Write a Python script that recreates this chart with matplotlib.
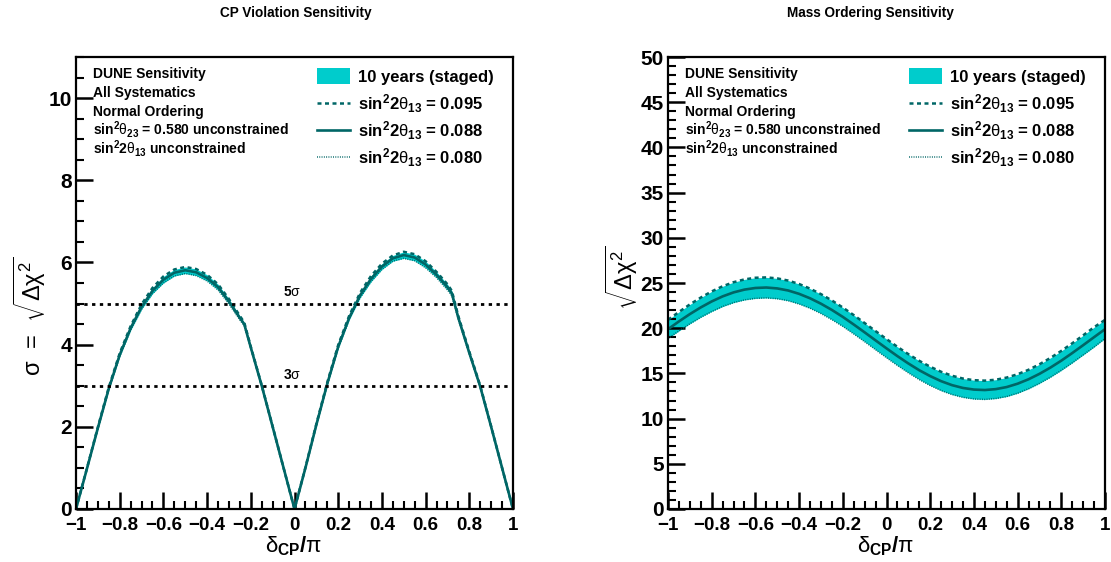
import matplotlib
matplotlib.use("Agg")
import matplotlib.pyplot as plt
from matplotlib.patches import Rectangle
from matplotlib.ticker import MultipleLocator

plt.rcParams['font.family'] = ['Liberation Sans', 'DejaVu Sans']
plt.rcParams['mathtext.fontset'] = 'custom'
plt.rcParams['mathtext.rm'] = 'Liberation Sans:bold'
plt.rcParams['mathtext.bf'] = 'Liberation Sans:bold'
plt.rcParams['mathtext.it'] = 'Liberation Sans'
plt.rcParams['mathtext.sf'] = 'Liberation Sans'

# ---------------- data ----------------
delta_cp = [-1.00, -0.95, -0.90, -0.85, -0.80, -0.75, -0.70, -0.65, -0.60, -0.55,
            -0.50, -0.45, -0.40, -0.35, -0.30, -0.25, -0.23, -0.20, -0.15, -0.10,
            -0.05, 0.00, 0.05, 0.10, 0.15, 0.20, 0.25, 0.30, 0.35, 0.40,
            0.45, 0.50, 0.55, 0.60, 0.65, 0.70, 0.72, 0.75, 0.80, 0.85,
            0.90, 0.95, 1.00]

cpv_088 = [0.00, 0.98, 1.97, 2.93, 3.75, 4.40, 4.92, 5.31, 5.58, 5.75,
           5.81, 5.76, 5.62, 5.40, 5.05, 4.65, 4.50, 3.93, 3.00, 2.00,
           1.00, 0.00, 1.00, 2.05, 3.05, 3.95, 4.65, 5.20, 5.60, 5.90,
           6.10, 6.18, 6.12, 5.95, 5.70, 5.40, 5.25, 4.65, 3.80, 2.98,
           2.00, 1.00, 0.00]

cpv_095 = [0.00, 0.99, 1.99, 2.96, 3.79, 4.45, 4.98, 5.38, 5.66, 5.83,
           5.89, 5.84, 5.70, 5.47, 5.11, 4.70, 4.54, 3.95, 3.01, 2.01,
           1.00, 0.00, 1.01, 2.07, 3.08, 3.99, 4.70, 5.26, 5.67, 5.97,
           6.17, 6.26, 6.20, 6.03, 5.77, 5.47, 5.31, 4.69, 3.83, 3.00,
           2.01, 1.00, 0.00]

cpv_080 = [0.00, 0.97, 1.95, 2.90, 3.71, 4.35, 4.86, 5.24, 5.50, 5.67,
           5.73, 5.68, 5.55, 5.33, 4.99, 4.60, 4.46, 3.91, 2.99, 1.99,
           1.00, 0.00, 0.99, 2.03, 3.02, 3.91, 4.60, 5.14, 5.53, 5.83,
           6.03, 6.10, 6.04, 5.87, 5.63, 5.33, 5.19, 4.61, 3.77, 2.96,
           1.99, 1.00, 0.00]

delta_mo = [-1.00, -0.95, -0.90, -0.85, -0.80, -0.75, -0.70, -0.65, -0.60, -0.55,
            -0.50, -0.45, -0.40, -0.35, -0.30, -0.25, -0.20, -0.15, -0.10, -0.05,
            0.00, 0.05, 0.10, 0.15, 0.20, 0.25, 0.30, 0.35, 0.40, 0.45,
            0.50, 0.55, 0.60, 0.65, 0.70, 0.75, 0.80, 0.85, 0.90, 0.95, 1.00]

mo_088 = [19.89, 20.75, 21.56, 22.30, 22.96, 23.52, 23.96, 24.27, 24.45, 24.50,
          24.40, 24.17, 23.80, 23.31, 22.71, 22.02, 21.25, 20.41, 19.54, 18.65,
          17.77, 16.91, 16.10, 15.35, 14.70, 14.14, 13.70, 13.39, 13.21, 13.16,
          13.26, 13.49, 13.86, 14.35, 14.95, 15.64, 16.41, 17.25, 18.12, 19.01, 19.89]

mo_095 = [20.92, 21.80, 22.63, 23.39, 24.07, 24.64, 25.09, 25.40, 25.58, 25.62,
          25.51, 25.27, 24.89, 24.38, 23.77, 23.07, 22.29, 21.45, 20.57, 19.68,
          18.80, 17.94, 17.13, 16.39, 15.74, 15.18, 14.74, 14.43, 14.25, 14.20,
          14.30, 14.54, 14.91, 15.40, 16.01, 16.71, 17.49, 18.33, 19.21, 20.11, 20.92]

mo_080 = [18.86, 19.70, 20.49, 21.21, 21.85, 22.40, 22.83, 23.13, 23.30, 23.35,
          23.26, 23.04, 22.68, 22.21, 21.63, 20.95, 20.20, 19.37, 18.51, 17.62,
          16.74, 15.88, 15.07, 14.32, 13.66, 13.10, 12.66, 12.35, 12.17, 12.12,
          12.22, 12.44, 12.81, 13.30, 13.90, 14.58, 15.34, 16.17, 17.04, 17.92, 18.86]

sigma_levels = [5, 3]
sigma_labels = ['5', '3']

xticks = [-1.0, -0.8, -0.6, -0.4, -0.2, 0.0, 0.2, 0.4, 0.6, 0.8, 1.0]
xtick_labels = ['\u22121', '\u22120.8', '\u22120.6', '\u22120.4', '\u22120.2', '0',
                '0.2', '0.4', '0.6', '0.8', '1']

info_lines = ['DUNE Sensitivity', 'All Systematics', 'Normal Ordering',
              r'sin$^{2}\theta_{23}$ = 0.580 unconstrained',
              r'sin$^{2}$2$\theta_{13}$ unconstrained']
band_label = '10 years (staged)'
th13_labels = [r'sin$^{2}$2$\theta_{13}$ = 0.095',
               r'sin$^{2}$2$\theta_{13}$ = 0.088',
               r'sin$^{2}$2$\theta_{13}$ = 0.080']

# ---------------- styling ----------------
W, H = 1111, 562
FILL = '#00CCCC'
LINE = '#006666'
styles = [dict(ls=(0, (1.6, 1.4)), lw=1.8),
          dict(ls='-', lw=1.9),
          dict(ls=(0, (0.6, 0.9)), lw=1.1)]

fig = plt.figure(figsize=(W / 100, H / 100), dpi=100)


def make_axes(left_px):
    ax_l = left_px / W
    ax_w = 437 / W
    ax_b = 1 - 509 / H
    ax_h = 452 / H
    return fig.add_axes([ax_l, ax_b, ax_w, ax_h])


def fx(px, left_px):
    return (px - left_px) / 437


def fy(py):
    return (509 - py) / 452


def style_axes(ax, ymax, ymajor, yminor):
    ax.set_xlim(-1, 1)
    ax.set_ylim(0, ymax)
    ax.set_xticks(xticks, labels=xtick_labels)
    ax.xaxis.set_minor_locator(MultipleLocator(0.05))
    ax.yaxis.set_major_locator(MultipleLocator(ymajor))
    ax.yaxis.set_minor_locator(MultipleLocator(yminor))
    for s in ax.spines.values():
        s.set_linewidth(1.6)
    ax.tick_params(which='major', direction='in', length=12, width=1.8,
                   top=False, right=False)
    ax.tick_params(which='minor', direction='in', length=6, width=1.5,
                   top=False, right=False)
    ax.tick_params(axis='x', which='major', labelsize=13.5, pad=6)
    ax.tick_params(axis='y', which='major', labelsize=15, pad=3)
    for lab in ax.get_xticklabels() + ax.get_yticklabels():
        lab.set_fontweight('bold')
    # the zero label sits just above the corner
    ax.get_yticklabels()[0].set_va('bottom')


def draw_key(ax, left_px):
    # info block
    bases = [77.5, 96.5, 115.5, 134.5, 153.5]
    for txt, b in zip(info_lines, bases):
        ax.text(fx(left_px + 17, left_px), fy(b), txt, transform=ax.transAxes,
                fontsize=10, fontweight='bold', ha='left', va='baseline')
    # band swatch
    x0 = fx(left_px + 240.5, left_px)
    x1 = fx(left_px + 273.5, left_px)
    ax.add_patch(Rectangle((x0, fy(84)), x1 - x0, fy(68) - fy(84),
                           transform=ax.transAxes, color=FILL, lw=0,
                           clip_on=False))
    tx = fx(left_px + 281.5, left_px)
    ax.text(tx, fy(82), band_label, transform=ax.transAxes, fontsize=12,
            fontweight='bold', ha='left', va='baseline')
    line_y = [103.3, 130, 156.5]
    text_b = [110, 136.7, 163.3]
    for st, ly, tb, lab in zip(styles, line_y, text_b, th13_labels):
        ax.plot([x0, x1], [fy(ly), fy(ly)], transform=ax.transAxes,
                color=LINE, clip_on=False, linestyle=st['ls'], lw=st['lw'])
        ax.text(tx, fy(tb), lab, transform=ax.transAxes, fontsize=12,
                fontweight='bold', ha='left', va='baseline')


def draw_curves(ax, x, hi, mid, lo):
    ax.fill_between(x, lo, hi, color=FILL, lw=0, zorder=1)
    for st, y in zip(styles, [hi, mid, lo]):
        ax.plot(x, y, color=LINE, linestyle=st['ls'], lw=st['lw'], zorder=2)


# ---------------- CP violation ----------------
axL = make_axes(76)
style_axes(axL, 11, 2, 0.5)
draw_curves(axL, delta_cp, cpv_095, cpv_088, cpv_080)
for lvl, lab in zip(sigma_levels, sigma_labels):
    axL.axhline(lvl, color='black', lw=2.0, linestyle=(0, (1.2, 1.6)), zorder=3)
    axL.text(-0.01, lvl + 0.27, lab + r'$\sigma$', fontsize=10,
             fontweight='bold', ha='center', va='center')
draw_key(axL, 76)

# ---------------- mass ordering ----------------
axR = make_axes(668)
style_axes(axR, 50, 5, 1)
draw_curves(axR, delta_mo, mo_095, mo_088, mo_080)
draw_key(axR, 668)

# ---------------- titles and axis titles ----------------
fig.text(296 / W, 1 - 13 / H, 'CP Violation Sensitivity',
         fontsize=9.8, fontweight='bold', ha='center', va='center')
fig.text(870 / W, 1 - 13 / H, 'Mass Ordering Sensitivity',
         fontsize=9.8, fontweight='bold', ha='center', va='center')

xlab = r'$\delta_{\mathbf{CP}}/\pi$'
fig.text(294 / W, 1 - 546 / H, xlab, fontsize=16, ha='center', va='center')
fig.text(886 / W, 1 - 546 / H, xlab, fontsize=16, ha='center', va='center')

root_term = r'$\sqrt{\mathsf{\Delta}\chi^{\mathsf{2}}}$'
fig.text(30 / W, 1 - 316 / H, r'$\sigma$  =  ' + root_term, fontsize=17,
         rotation=90, ha='center', va='center')
fig.text(622 / W, 1 - 278 / H, root_term, fontsize=17,
         rotation=90, ha='center', va='center')

fig.savefig('out.png', dpi=100)
